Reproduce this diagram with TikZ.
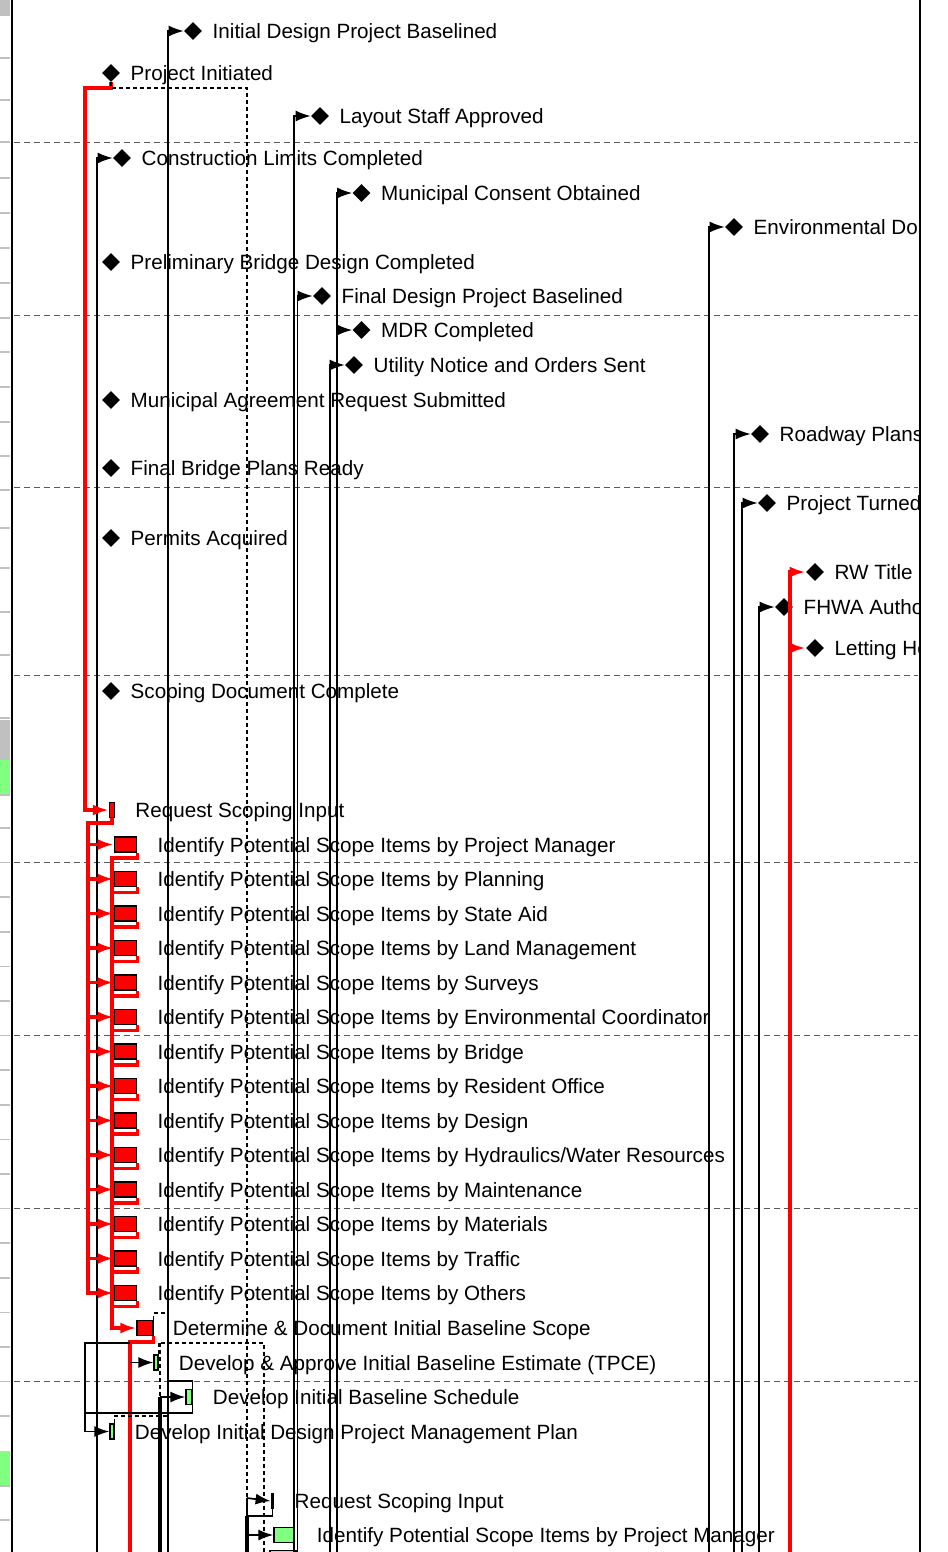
\documentclass[tikz,border=0pt]{standalone}
\usepackage{fontspec}
\setmainfont{Liberation Sans}
\usetikzlibrary{shapes.geometric, positioning, arrows.meta}
\definecolor{bargreen}{RGB}{128,255,128}
\definecolor{stripgray}{RGB}{192,192,192}
\tikzset{
        milestone/.style={diamond, fill=black, inner sep=0pt, minimum size=0.36cm}, % the black diamonds
        taskbar/.style={draw=black, line width=0.025cm, inner sep=0pt, minimum height=0.3cm, fill=bargreen},
        critbar/.style={taskbar, fill=red}, % tasks on the critical path
        idbar/.style={critbar, minimum width=0.45cm},
        lbl/.style={inner sep=0pt, text height=0.3cm, text depth=0pt, font=\fontsize{11.75}{14}\selectfont},
        wire/.style={line width=0.034cm},
        thickwire/.style={line width=0.065cm},
        link/.style={wire, -{Latex[length=0.3cm,width=0.22cm]}}, % black link with arrow
        critwire/.style={line width=0.07cm, red},
        critlink/.style={critwire, -{Latex[length=0.32cm,width=0.22cm]}},
        softlink/.style={line width=0.026cm, dash pattern=on 0.08cm off 0.06cm},
        rowline/.style={line width=0.02cm, gray!70!black, dash pattern=on 0.12cm off 0.08cm},
        }
\begin{document}
\begin{tikzpicture}[x=0.02cm, y=-0.02cm]
        \useasboundingbox (0,0) rectangle (947,1552);
        \fill[white] (0,0) rectangle (947,1552);
        % left strip of the table
        \fill[stripgray] (0,0) rectangle (10,15);
        \fill[stripgray] (0,720) rectangle (10,760);
        \fill[bargreen] (0,760) rectangle (10,795);
        \fill[bargreen] (0,1451) rectangle (10,1486);
        \draw[stripgray, line width=0.03cm] (0,15) -- (10,15) (0,58) -- (10,58) (0,100) -- (10,100) (0,142) -- (10,142)
                (0,178) -- (10,178) (0,213) -- (10,213) (0,248) -- (10,248) (0,283) -- (10,283) (0,318) -- (10,318)
                (0,352) -- (10,352) (0,387) -- (10,387) (0,422) -- (10,422) (0,456) -- (10,456) (0,490) -- (10,490)
                (0,528) -- (10,528) (0,568) -- (10,568) (0,612) -- (10,612) (0,655) -- (10,655) (0,718) -- (10,718)
                (0,795) -- (10,795) (0,828) -- (10,828) (0,862.6) -- (10,862.6) (0,897.2) -- (10,897.2)
                (0,931.8) -- (10,931.8) (0,966.4) -- (10,966.4) (0,1001) -- (10,1001) (0,1035.6) -- (10,1035.6)
                (0,1070.2) -- (10,1070.2) (0,1104.8) -- (10,1104.8) (0,1139.4) -- (10,1139.4) (0,1174) -- (10,1174)
                (0,1208.6) -- (10,1208.6) (0,1243.2) -- (10,1243.2) (0,1277.8) -- (10,1277.8) (0,1312.4) -- (10,1312.4)
                (0,1347) -- (10,1347) (0,1381.6) -- (10,1381.6) (0,1416.2) -- (10,1416.2) (0,1486) -- (10,1486)
                (0,1520) -- (10,1520);
        \draw[line width=0.05cm] (12,0) -- (12,1552);
        \draw[line width=0.035cm] (920,0) -- (920,1552);

        \begin{scope}
        \clip (13,0) rectangle (918.5,1552);
        \draw[rowline] (14,142) -- (918,142) (14,315) -- (918,315) (14,487) -- (918,487) (14,675) -- (918,675)
                (14,862) -- (918,862) (14,1035) -- (918,1035) (14,1208) -- (918,1208) (14,1381) -- (918,1381);

        % milestones
        \node[milestone] (idpb) at (193,31) {};
        \node[lbl, right=0.2cm of idpb] (idpbt) {Initial Design Project Baselined};
        \node[milestone] (pin) at (111,73) {};
        \node[lbl, right=0.2cm of pin] (pint) {Project Initiated};
        \node[milestone] (lsa) at (320,116) {};
        \node[lbl, right=0.2cm of lsa] (lsat) {Layout Staff Approved};
        \node[milestone] (clc) at (122,158) {};
        \node[lbl, right=0.2cm of clc] (clct) {Construction Limits Completed};
        \node[milestone] (mco) at (361.5,193) {};
        \node[lbl, right=0.2cm of mco] (mcot) {Municipal Consent Obtained};
        \node[milestone] (edo) at (734,227) {};
        \node[lbl, right=0.2cm of edo] (edot) {Environmental Do};
        \node[milestone] (pbd) at (111,262) {};
        \node[lbl, right=0.2cm of pbd] (pbdt) {Preliminary Bridge Design Completed};
        \node[milestone] (fdb) at (322,296) {};
        \node[lbl, right=0.2cm of fdb] (fdbt) {Final Design Project Baselined};
        \node[milestone] (mdr) at (361.5,330) {};
        \node[lbl, right=0.2cm of mdr] (mdrt) {MDR Completed};
        \node[milestone] (uno) at (354,365) {};
        \node[lbl, right=0.2cm of uno] (unot) {Utility Notice and Orders Sent};
        \node[milestone] (mar) at (111,400) {};
        \node[lbl, right=0.2cm of mar] (mart) {Municipal Agreement Request Submitted};
        \node[milestone] (rwp) at (760,434) {};
        \node[lbl, right=0.2cm of rwp] (rwpt) {Roadway Plans};
        \node[milestone] (fbp) at (111,468) {};
        \node[lbl, right=0.2cm of fbp] (fbpt) {Final Bridge Plans Ready};
        \node[milestone] (ptd) at (767,503) {};
        \node[lbl, right=0.2cm of ptd] (ptdt) {Project Turned};
        \node[milestone] (pac) at (111,538) {};
        \node[lbl, right=0.2cm of pac] (pact) {Permits Acquired};
        \node[milestone] (rwt) at (815,572) {};
        \node[lbl, right=0.2cm of rwt] (rwtt) {RW Title};
        \node[milestone] (fhw) at (784,607) {};
        \node[lbl, right=0.2cm of fhw] (fhwt) {FHWA Autho};
        \node[milestone] (lth) at (815,648) {};
        \node[lbl, right=0.2cm of lth] (ltht) {Letting He};
        \node[milestone] (sdc) at (111,691) {};
        \node[lbl, right=0.2cm of sdc] (sdct) {Scoping Document Complete};

        % tasks
        \node[critbar, minimum width=0.1cm] (rsi) at (112,810) {};
        \node[lbl, right=0.4cm of rsi] (rsit) {Request Scoping Input};
        \node[idbar] (ipm) at (125.5,844.5) {};
        \node[lbl, right=0.4cm of ipm] (ipmt) {Identify Potential Scope Items by Project Manager};
        \node[idbar] (ipl) at (125.5,879) {};
        \node[lbl, right=0.4cm of ipl] (iplt) {Identify Potential Scope Items by Planning};
        \node[idbar] (ips) at (125.5,913.5) {};
        \node[lbl, right=0.4cm of ips] (ipst) {Identify Potential Scope Items by State Aid};
        \node[idbar] (iplm) at (125.5,948) {};
        \node[lbl, right=0.4cm of iplm] (iplmt) {Identify Potential Scope Items by Land Management};
        \node[idbar] (ipsv) at (125.5,982.5) {};
        \node[lbl, right=0.4cm of ipsv] (ipsvt) {Identify Potential Scope Items by Surveys};
        \node[idbar] (ipec) at (125.5,1017) {};
        \node[lbl, right=0.4cm of ipec] (ipect) {Identify Potential Scope Items by Environmental Coordinator};
        \node[idbar] (ipb) at (125.5,1051.5) {};
        \node[lbl, right=0.4cm of ipb] (ipbt) {Identify Potential Scope Items by Bridge};
        \node[idbar] (ipro) at (125.5,1086) {};
        \node[lbl, right=0.4cm of ipro] (iprot) {Identify Potential Scope Items by Resident Office};
        \node[idbar] (ipd) at (125.5,1120.5) {};
        \node[lbl, right=0.4cm of ipd] (ipdt) {Identify Potential Scope Items by Design};
        \node[idbar] (iph) at (125.5,1155) {};
        \node[lbl, right=0.4cm of iph] (ipht) {Identify Potential Scope Items by Hydraulics/Water Resources};
        \node[idbar] (ipmt) at (125.5,1189.5) {};
        \node[lbl, right=0.4cm of ipmt] (ipmtt) {Identify Potential Scope Items by Maintenance};
        \node[idbar] (ipma) at (125.5,1224) {};
        \node[lbl, right=0.4cm of ipma] (ipmat) {Identify Potential Scope Items by Materials};
        \node[idbar] (ipt) at (125.5,1258.5) {};
        \node[lbl, right=0.4cm of ipt] (iptt) {Identify Potential Scope Items by Traffic};
        \node[idbar] (ipo) at (125.5,1293) {};
        \node[lbl, right=0.4cm of ipo] (ipot) {Identify Potential Scope Items by Others};
        \node[critbar, minimum width=0.32cm] (det) at (145,1328) {};
        \node[lbl, right=0.38cm of det] (dett) {Determine \& Document Initial Baseline Scope};
        \node[taskbar, minimum width=0.08cm] (dab) at (156,1362.5) {};
        \node[lbl, right=0.4cm of dab] (dabt) {Develop \& Approve Initial Baseline Estimate (TPCE)};
        \node[taskbar, minimum width=0.12cm] (dibs) at (189,1397) {};
        \node[lbl, right=0.4cm of dibs] (dibst) {Develop Initial Baseline Schedule};
        \node[taskbar, minimum width=0.08cm] (didp) at (112,1431.5) {};
        \node[lbl, right=0.4cm of didp] (didpt) {Develop Initial Design Project Management Plan};
        \node[taskbar, fill=black, minimum width=0.05cm] (rsib) at (272.5,1501) {};
        \node[lbl, right=0.4cm of rsib] (rsibt) {Request Scoping Input};
        \node[taskbar, minimum width=0.4cm] (ipmb) at (284,1535) {};
        \node[lbl, right=0.44cm of ipmb] (ipmbt) {Identify Potential Scope Items by Project Manager};
        \node[taskbar, minimum width=0.52cm] (ipnb) at (283,1558) {};

        % free ends at the bottom edge
        \coordinate (idpbfoot) at (168,1552);
        \coordinate (lsafoot) at (294,1552);
        \coordinate (fdbfoot) at (297.5,1552);
        \coordinate (clcfoot) at (97,1552);
        \coordinate (mcofoot) at (337,1552);
        \coordinate (unofoot) at (330,1552);
        \coordinate (edofoot) at (709,1552);
        \coordinate (rwpfoot) at (734,1552);
        \coordinate (ptdfoot) at (742,1552);
        \coordinate (fhwfoot) at (759,1552);
        \coordinate (rwtfoot) at (790,1552);
        \coordinate (detfoot) at (130,1552);
        \coordinate (dabfoot) at (264,1552);
        \coordinate (dibsfoot) at (160,1552);
        \coordinate (rsibfoot) at (247,1552);

        % links to the milestones
        \draw[link] (idpbfoot) |- (idpb.west);
        \draw[link] (lsafoot) |- (lsa.west);
        \draw[link] (fdbfoot) |- (fdb.west);
        \draw[link] (clcfoot) |- (clc.west);
        \draw[link] (mcofoot) |- (mco.west);
        \draw[link] (mcofoot) |- (mdr.west);
        \draw[link] (unofoot) |- (uno.west);
        \draw[link] (edofoot) |- (edo.west);
        \draw[link] (rwpfoot) |- (rwp.west);
        \draw[link] (ptdfoot) |- (ptd.west);
        \draw[link] (fhwfoot) |- (fhw.west);
        \draw[critlink] (rwtfoot) |- (rwt.west);
        \draw[critlink] (rwtfoot) |- (lth.west);

        % links between the tasks
        \draw[critlink] (pin.south) |- (85,88) |- (rsi.west);
        \draw[softlink] (pin.south) |- (247,88) -- (247,1498);
        \draw[critlink] (rsi.south) |- (88,823) |- (ipm.west);
        \draw[critlink] (88,823) |- (ipl.west);
        \draw[critlink] (88,823) |- (ips.west);
        \draw[critlink] (88,823) |- (iplm.west);
        \draw[critlink] (88,823) |- (ipsv.west);
        \draw[critlink] (88,823) |- (ipec.west);
        \draw[critlink] (88,823) |- (ipb.west);
        \draw[critlink] (88,823) |- (ipro.west);
        \draw[critlink] (88,823) |- (ipd.west);
        \draw[critlink] (88,823) |- (iph.west);
        \draw[critlink] (88,823) |- (ipmt.west);
        \draw[critlink] (88,823) |- (ipma.west);
        \draw[critlink] (88,823) |- (ipt.west);
        \draw[critlink] (88,823) |- (ipo.west);
        \draw[critwire] (ipm.south east) |- (112,858) -- (112,1328);
        \draw[critwire] (ipl.south east) |- (112,892.5);
        \draw[critwire] (ips.south east) |- (112,927);
        \draw[critwire] (iplm.south east) |- (112,961.5);
        \draw[critwire] (ipsv.south east) |- (112,996);
        \draw[critwire] (ipec.south east) |- (112,1030.5);
        \draw[critwire] (ipb.south east) |- (112,1065);
        \draw[critwire] (ipro.south east) |- (112,1099.5);
        \draw[critwire] (ipd.south east) |- (112,1134);
        \draw[critwire] (iph.south east) |- (112,1168.5);
        \draw[critwire] (ipmt.south east) |- (112,1203);
        \draw[critwire] (ipma.south east) |- (112,1237.5);
        \draw[critwire] (ipt.south east) |- (112,1272);
        \draw[critwire] (ipo.south east) |- (112,1306.5);
        \draw[critlink] (112,1306.5) |- (det.west);
        \draw[softlink] (det.north east) |- (168,1313);
        \draw[critwire] (det.south east) |- (130,1342) -- (detfoot);
        \draw[wire] (130,1343) -| (85,1413);
        \draw[link] (85,1413) |- (didp.west);
        \draw[link] (130,1362.5) -- (dab.west);
        \draw[softlink] (dab.north east) |- (264,1343) -- (dabfoot);
        \draw[softlink] (160,1343) -- (160,1397);
        \draw[link] (160,1397) -- (dibs.west);
        \draw[thickwire] (160,1397) -- (dibsfoot);
        \draw[wire] (dibs.north east) |- (168,1381);
        \draw[wire] (dibs.south east) |- (85,1413);
        \draw[softlink] (didp.north east) |- (168,1416);
        \draw[link] (247,1498) -- (rsib.west);
        \draw[wire] (rsib.south) |- (247,1516) -- (247,1498);
        \draw[thickwire] (247,1516) -- (rsibfoot);
        \draw[link] (247,1535) -- (ipmb.west);
        \end{scope}
\end{tikzpicture}
\end{document}
